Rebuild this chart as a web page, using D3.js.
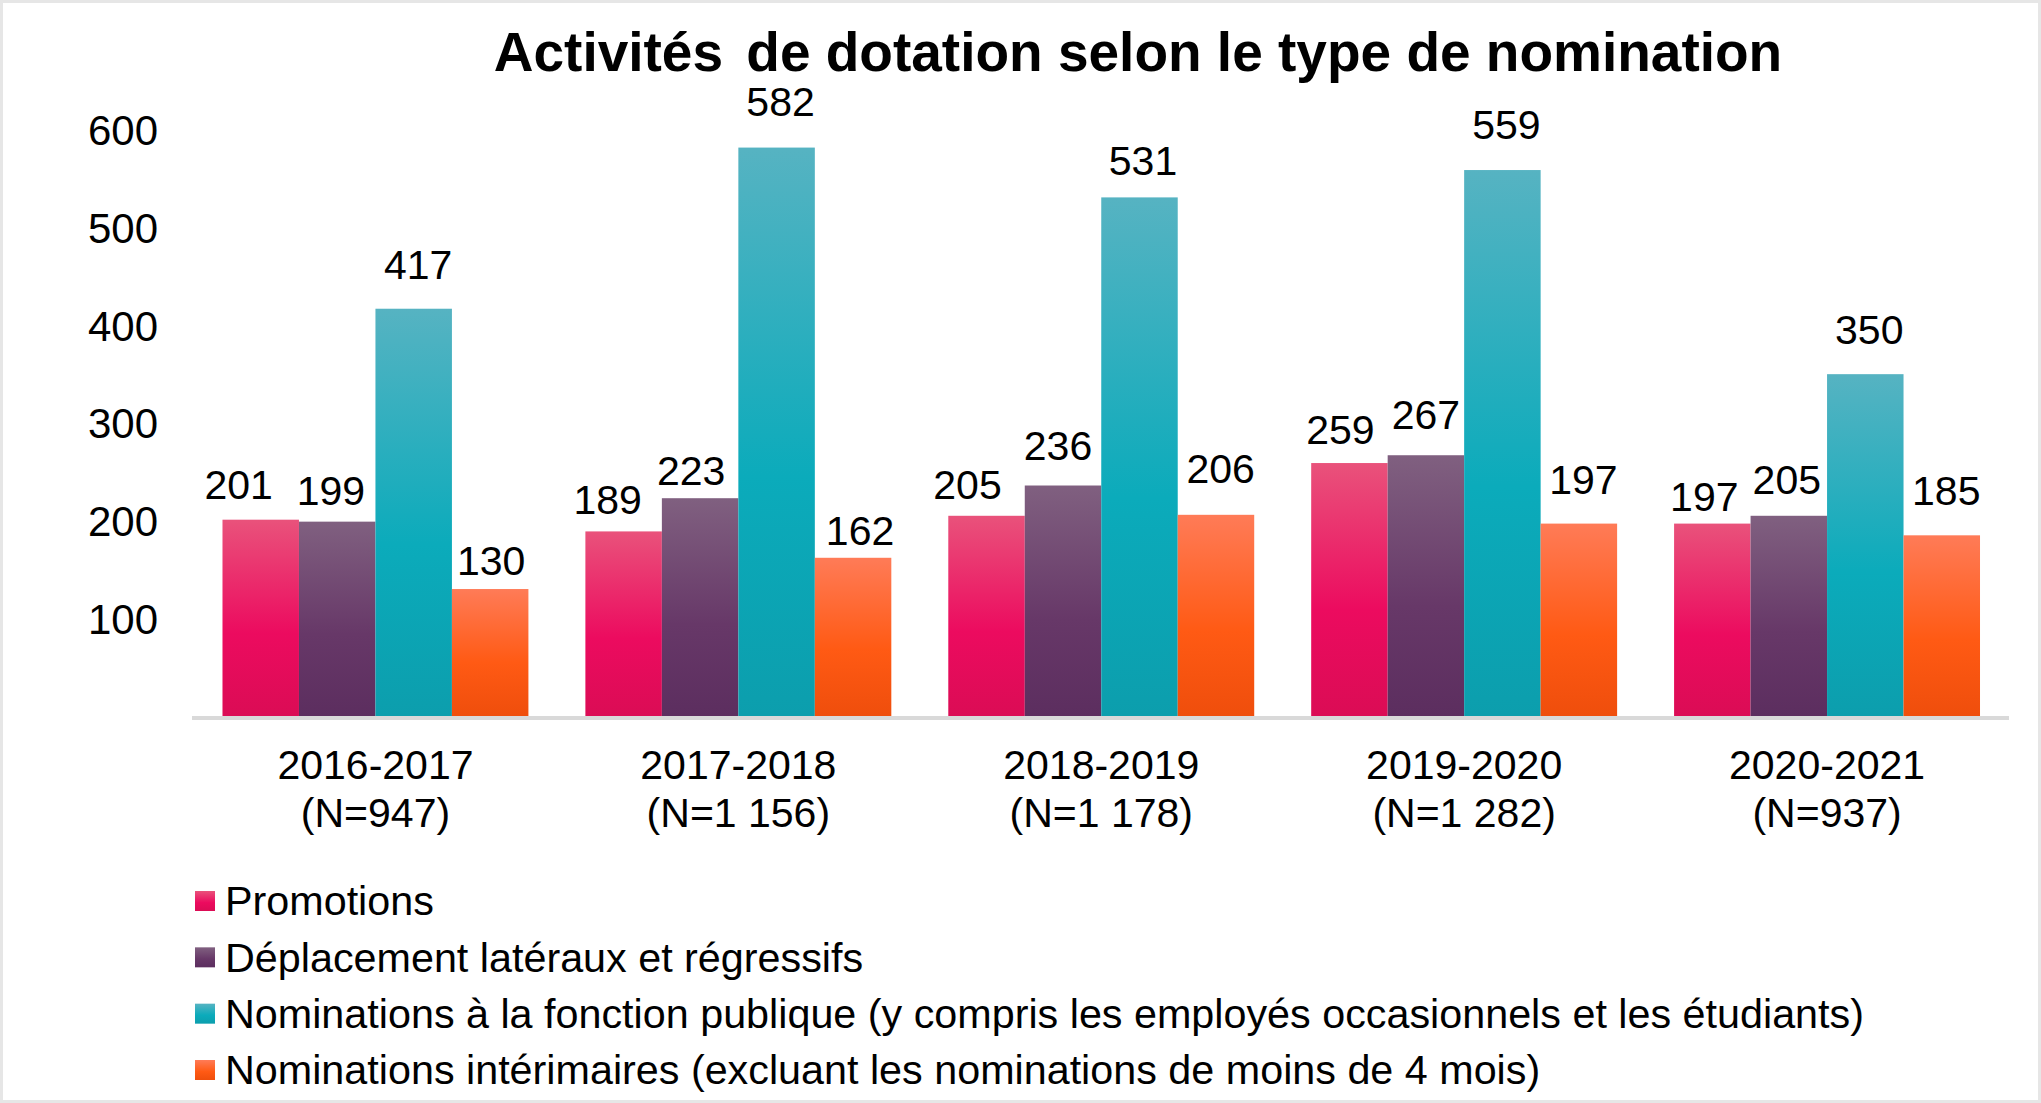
<!DOCTYPE html>
<html>
<head>
<meta charset="utf-8">
<script src="https://cdn.jsdelivr.net/npm/d3@7"></script>
<style>
  html, body { margin: 0; padding: 0; background: #ffffff; }
  svg { display: block; }
  text { font-family: "Liberation Sans", Arial, sans-serif; fill: #000; }
</style>
</head>
<body>
<svg id="chart" width="2041" height="1103"></svg>
<script>
// ---- data ----
const categories = ["2016-2017", "2017-2018", "2018-2019", "2019-2020", "2020-2021"];
const categoryN = ["(N=947)", "(N=1 156)", "(N=1 178)", "(N=1 282)", "(N=937)"];
const seriesNames = [
  "Promotions",
  "Déplacement latéraux et régressifs",
  "Nominations à la fonction publique (y compris les employés occasionnels et les étudiants)",
  "Nominations intérimaires (excluant les nominations de moins de 4 mois)"
];
const promotions = [201, 189, 205, 259, 197];
const deplacements = [199, 223, 236, 267, 205];
const nominationsFP = [417, 582, 531, 559, 350];
const interimaires = [130, 162, 206, 197, 185];
const yTicks = [100, 200, 300, 400, 500, 600];
const titleWords = ["Activités", "de dotation selon le type de nomination"];

// ---- layout: manual data-label nudges (px) as placed in the original ----
const labelLift = [
  [21, 17.7, 17, 19.5, 13],
  [17, 13.7, 25.7, 26, 22],
  [30, 32, 22, 31.3, 30.6],
  [13.7, 12.7, 31.7, 30, 30]
];
const labelShift = [
  [-22, -16, -19, -9, -8],
  [-6.3, -9, -5, 0, -2],
  [4.5, 4, 3.5, 4, 4],
  [1, 7, 4.7, 4.5, 4.5]
];

const seriesValues = [promotions, deplacements, nominationsFP, interimaires];
const gradients = [
  ["#e9527b", "#ec0b5f", "#db0c55"],
  ["#806080", "#673868", "#5c2e5f"],
  ["#56b3c2", "#0babbb", "#0c9ead"],
  ["#ff7b57", "#ff5a14", "#ef4e0c"]
];

const W = 2041, H = 1103;
const svg = d3.select("#chart");
const defs = svg.append("defs");
gradients.forEach((g, i) => {
  const lg = defs.append("linearGradient")
    .attr("id", "grad" + i)
    .attr("x1", 0).attr("y1", 0).attr("x2", 0).attr("y2", 1);
  lg.append("stop").attr("offset", "0%").attr("stop-color", g[0]);
  lg.append("stop").attr("offset", "58%").attr("stop-color", g[1]);
  lg.append("stop").attr("offset", "100%").attr("stop-color", g[2]);
});

// frame
svg.append("rect").attr("x", 0).attr("y", 0).attr("width", W).attr("height", H).attr("fill", "#e6e6e6");
svg.append("rect").attr("x", 3).attr("y", 3).attr("width", W - 6).attr("height", H - 6).attr("fill", "#ffffff");

// scales
const x0 = d3.scaleBand().domain(categories).range([194, 2008.5]).paddingInner(0.157).paddingOuter(0.0785);
const x1 = d3.scaleBand().domain(d3.range(seriesNames.length)).range([0, x0.bandwidth()]);
const y = d3.scaleLinear().domain([0, 600]).range([716, 130]);

// title (slightly wider gap after the first word, as in the original)
const tt = svg.append("text")
  .attr("x", 1138).attr("y", 71)
  .attr("text-anchor", "middle")
  .style("font-weight", "bold").style("font-size", "55px");
tt.append("tspan").text(titleWords[0] + " ");
tt.append("tspan").attr("dx", 8).text(titleWords[1]);

// y axis labels
const yAxis = d3.axisLeft(y).tickValues(yTicks).tickSize(0).tickPadding(0);
const yg = svg.append("g").attr("transform", "translate(158,0)").call(yAxis);
yg.select(".domain").remove();
yg.selectAll("text").style("font-size", "42px").style("font-family", '"Liberation Sans", Arial, sans-serif').attr("fill", "#000").attr("dy", "0.35em");

// bars
const groups = svg.append("g").selectAll("g")
  .data(categories)
  .join("g")
  .attr("transform", d => `translate(${x0(d)},0)`);

const cell = (d, ci) => seriesValues.map((vals, si) => ({ si, ci, v: vals[ci] }));

groups.selectAll("rect")
  .data(cell)
  .join("rect")
  .attr("x", d => x1(d.si))
  .attr("width", x1.bandwidth())
  .attr("y", d => y(d.v))
  .attr("height", d => y(0) - y(d.v))
  .attr("fill", d => `url(#grad${d.si})`);

groups.selectAll("text.val")
  .data(cell)
  .join("text")
  .attr("class", "val")
  .attr("x", d => x1(d.si) + x1.bandwidth() / 2 + labelShift[d.si][d.ci])
  .attr("y", d => y(d.v) - labelLift[d.si][d.ci])
  .attr("text-anchor", "middle")
  .style("font-size", "41px")
  .text(d => d.v);

// x axis line
svg.append("line")
  .attr("x1", 192).attr("x2", 2009)
  .attr("y1", 718).attr("y2", 718)
  .attr("stroke", "#d9d9d9").attr("stroke-width", 4);

// x axis labels
const xAxis = d3.axisBottom(x0).tickSize(0).tickPadding(0).tickFormat(() => "");
const xg = svg.append("g").attr("transform", "translate(0,716)").call(xAxis);
xg.select(".domain").remove();
xg.selectAll(".tick").each(function(d, i) {
  const t = d3.select(this);
  t.select("text").remove();
  const tx = t.append("text").attr("text-anchor", "middle").style("font-size", "41px").attr("fill", "#000");
  tx.append("tspan").attr("x", 0).attr("y", 63).text(d);
  tx.append("tspan").attr("x", 0).attr("y", 111).text(categoryN[i]);
});

// legend
const legend = svg.append("g");
const legendY = d3.scalePoint().domain(d3.range(seriesNames.length)).range([901, 1070]);
seriesNames.forEach((name, i) => {
  const gy = legendY(i);
  legend.append("rect").attr("x", 195).attr("y", gy - 10).attr("width", 20).attr("height", 20).attr("fill", `url(#grad${i})`);
  legend.append("text").attr("x", 225).attr("y", gy).attr("dy", "0.35em").style("font-size", "41.3px").text(name);
});
</script>
</body>
</html>
